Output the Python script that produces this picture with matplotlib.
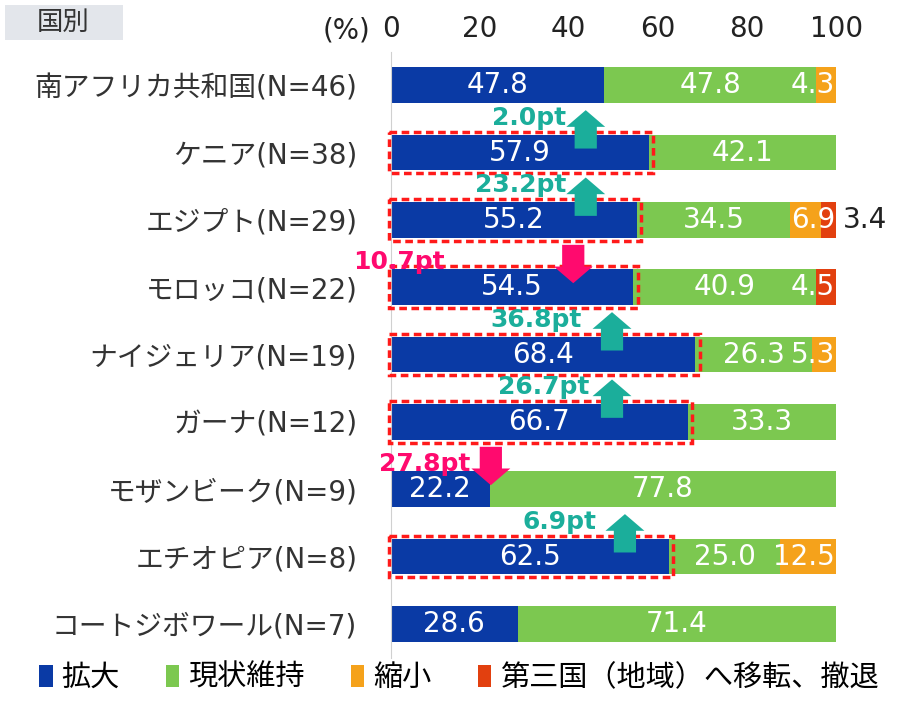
import matplotlib
matplotlib.use("Agg")
import matplotlib.pyplot as plt
from matplotlib.patches import Rectangle, Patch

plt.rcParams['font.family'] = ['DejaVu Sans', 'Noto Sans CJK JP']

# data
countries = ['南アフリカ共和国(N=46)', 'ケニア(N=38)', 'エジプト(N=29)', 'モロッコ(N=22)',
             'ナイジェリア(N=19)', 'ガーナ(N=12)', 'モザンビーク(N=9)', 'エチオピア(N=8)',
             'コートジボワール(N=7)']
expand = [47.8, 57.9, 55.2, 54.5, 68.4, 66.7, 22.2, 62.5, 28.6]
keep = [47.8, 42.1, 34.5, 40.9, 26.3, 33.3, 77.8, 25.0, 71.4]
shrink = [4.3, 0, 6.9, 0, 5.3, 0, 0, 12.5, 0]
withdraw = [0, 0, 3.4, 4.5, 0, 0, 0, 0, 0]
series_names = ['拡大', '現状維持', '縮小', '第三国（地域）へ移転、撤退']
xticks = [0, 20, 40, 60, 80, 100]

# rows with a dashed highlight box
highlight = [1, 2, 3, 4, 5, 7]

# change vs. previous survey (pt) and where the arrows sit
change_rows = [1, 2, 3, 4, 5, 6, 7]
change_pt = [2.0, 23.2, -10.7, 36.8, 26.7, -27.8, 6.9]
arrow_x = [43.8, 43.8, 41.0, 49.7, 49.7, 22.5, 52.6]
label_x = [39.5, 39.5, 12.1, 42.9, 44.7, 17.8, 46.3]

colors = ['#0A3AA5', '#7CC850', '#F5A21B', '#E2400F']
UP = '#1BAE9B'
DOWN = '#FF0A6E'
FS = 20

fig = plt.figure(figsize=(9, 7.07), dpi=100)
ax = fig.add_axes([0.434, 0.070, 0.495, 0.857])

rows = list(range(len(countries)))
series = [expand, keep, shrink, withdraw]
left = [0.0] * len(rows)
for vals, col in zip(series, colors):
    ax.barh(rows, vals, left=left, height=0.53, color=col, zorder=2)
    for i, v in enumerate(vals):
        if v <= 0:
            continue
        if v < 4:
            # too thin: value goes outside the bar
            ax.text(101.5, i, f'{v:.1f}', ha='left', va='center', color='#222222',
                    fontsize=FS)
        elif v < 15:
            # small tail segment: label pushed against the 100 end
            ax.text(99.8, i, f'{v:.1f}', ha='right', va='center',
                    color='white', fontsize=FS, zorder=4)
        else:
            ax.text(left[i] + v / 2, i, f'{v:.1f}', ha='center', va='center',
                    color='white', fontsize=FS, zorder=4)
    left = [l + v for l, v in zip(left, vals)]

for i in highlight:
    ax.add_patch(Rectangle((-0.4, i - 0.31), expand[i] + 1.4, 0.62, fill=False,
                           edgecolor='#FF1A1A', linestyle=(0, (2.2, 1.3)),
                           linewidth=2.5, zorder=3, clip_on=False))

for r, pt, ax_x, lx in zip(change_rows, change_pt, arrow_x, label_x):
    up = pt > 0
    col = UP if up else DOWN
    top, bottom = r - 0.63, r - 0.06
    if up:
        tip, tail = top, bottom
        ly = r - 0.52
    else:
        tip, tail = bottom, top
        ly = r - 0.37
    ax.annotate('', xy=(ax_x, tip), xytext=(ax_x, tail),
                arrowprops=dict(arrowstyle='simple,head_length=1.2,head_width=2.8,tail_width=1.6',
                                mutation_scale=10, color=col, lw=0,
                                shrinkA=0, shrinkB=0),
                zorder=5, annotation_clip=False)
    ax.text(lx, ly, f'{abs(pt):.1f}pt', ha='right', va='center', color=col,
            fontsize=18, fontweight='bold', zorder=6)

ax.set_xlim(0, 100)
ax.set_ylim(len(rows) - 0.5, -0.5)
ax.set_yticks(rows)
ax.set_yticklabels(countries, fontsize=FS, color='#333333')
ax.set_xticks(xticks)
ax.set_xticklabels([str(t) for t in xticks], fontsize=FS, color='#222222')
ax.tick_params(axis='x', top=True, labeltop=True, bottom=False, labelbottom=False,
               length=0, pad=6)
ax.tick_params(axis='y', length=0, pad=24)
for s in ['top', 'right', 'bottom']:
    ax.spines[s].set_visible(False)
ax.spines['left'].set_color('#D0D0D0')
ax.text(-4.5, -0.82, '(%)', ha='right', va='center', fontsize=FS, color='#222222')

# header box
fig.patches.append(Rectangle((0.006, 0.944), 0.131, 0.049, transform=fig.transFigure,
                             facecolor='#E3E6EB', edgecolor='none'))
fig.text(0.07, 0.968, '国別', ha='center', va='center', fontsize=19, color='#333333')

handles = [Patch(facecolor=c, edgecolor='none') for c in colors]
fig.legend(handles, series_names, loc='center', bbox_to_anchor=(0.51, 0.041), ncol=4,
           frameon=False, fontsize=21, handlelength=0.45, handleheight=0.8,
           handletextpad=0.3, columnspacing=1.6)

fig.savefig('out.png', dpi=100)
